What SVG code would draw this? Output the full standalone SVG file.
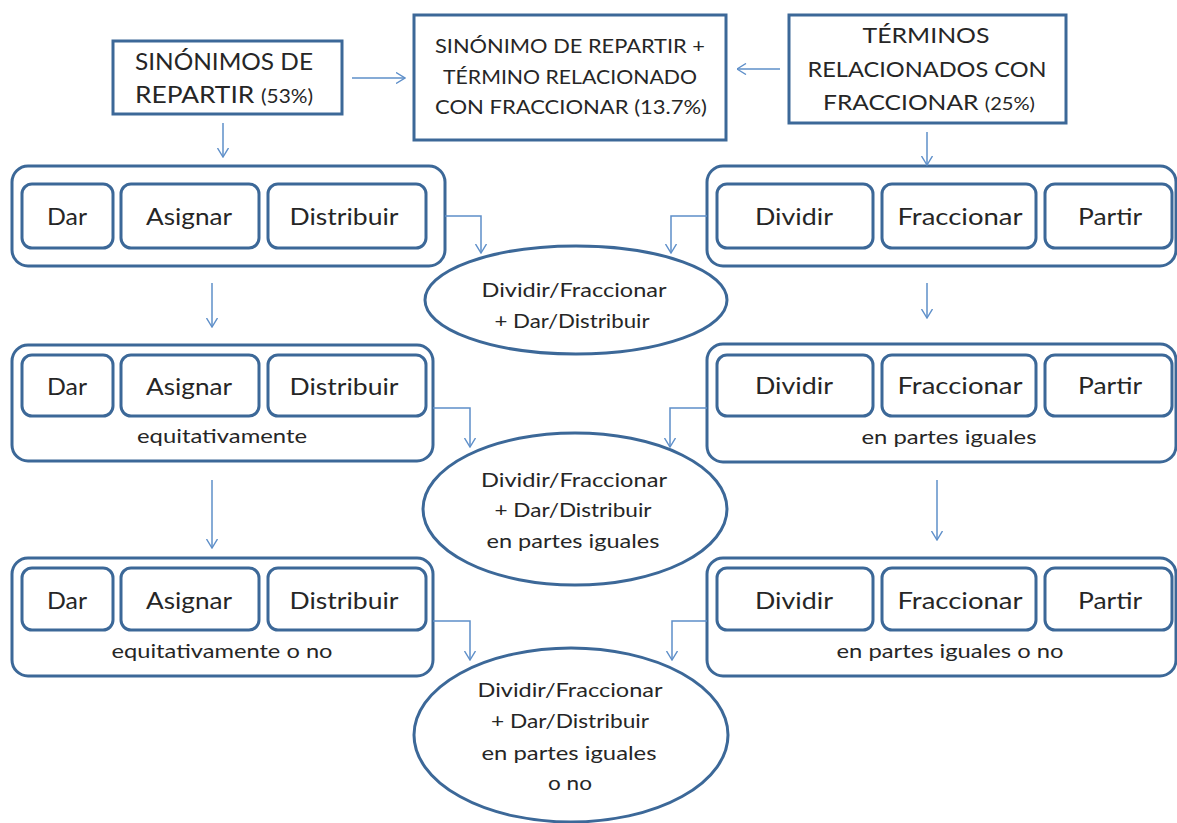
<svg xmlns="http://www.w3.org/2000/svg" width="1177" height="823" viewBox="0 0 1177 823">
<defs>
<marker id="arr" viewBox="0 0 10 12" refX="9.5" refY="6" markerWidth="10" markerHeight="12" markerUnits="userSpaceOnUse" orient="auto">
<path d="M0.5,0.5 L9.5,6 L0.5,11.5" fill="none" stroke="#5E8FC9" stroke-width="1.4"/>
</marker>
</defs>
<style>
.box{fill:#fff;stroke:#3C6898;stroke-width:3}
.cont{fill:#fff;stroke:#3C6898;stroke-width:3}
.t{font-family:Lato,"Liberation Sans",sans-serif;fill:#262626;text-anchor:middle}
.w{font-size:23px}
.s{font-size:20px}
.e{font-size:20px}
.conn{fill:none;stroke:#5E8FC9;stroke-width:1.5;marker-end:url(#arr)}
</style>
<rect width="1177" height="823" fill="#fff"/>

<g id="top-left">
<rect class="box" x="113" y="41" width="229" height="73"/>
<text class="t" x="224" y="70" font-size="24" textLength="178" lengthAdjust="spacingAndGlyphs">SINÓNIMOS DE</text>
<text class="t" x="224" y="103" font-size="24" textLength="178" lengthAdjust="spacingAndGlyphs">REPARTIR <tspan font-size="19">(53%)</tspan></text>
</g>

<g id="top-middle">
<rect class="box" x="414" y="15" width="312" height="125"/>
<text class="t" x="570" y="53" font-size="20" textLength="270" lengthAdjust="spacingAndGlyphs">SINÓNIMO DE REPARTIR +</text>
<text class="t" x="570" y="84" font-size="20" textLength="254" lengthAdjust="spacingAndGlyphs">TÉRMINO RELACIONADO</text>
<text class="t" x="571" y="114" font-size="20" textLength="272" lengthAdjust="spacingAndGlyphs">CON FRACCIONAR (13.7%)</text>
</g>

<g id="top-right">
<rect class="box" x="789" y="15" width="277" height="108"/>
<text class="t" x="926" y="43" font-size="22" textLength="127" lengthAdjust="spacingAndGlyphs">TÉRMINOS</text>
<text class="t" x="927" y="77" font-size="22" textLength="239" lengthAdjust="spacingAndGlyphs">RELACIONADOS CON</text>
<text class="t" x="929" y="110" font-size="22" textLength="212" lengthAdjust="spacingAndGlyphs">FRACCIONAR <tspan font-size="18">(25%)</tspan></text>
</g>

<g id="row1-left">
<rect class="cont" x="12" y="166" width="433" height="100" rx="16"/>
<rect class="box" x="22" y="184" width="91" height="64" rx="10"/>
<rect class="box" x="121" y="184" width="138" height="64" rx="10"/>
<rect class="box" x="268" y="184" width="158" height="64" rx="10"/>
<text class="t w" x="67" y="225" textLength="40" lengthAdjust="spacingAndGlyphs">Dar</text>
<text class="t w" x="189" y="225" textLength="86" lengthAdjust="spacingAndGlyphs">Asignar</text>
<text class="t w" x="344" y="225" textLength="109" lengthAdjust="spacingAndGlyphs">Distribuir</text>
</g>

<g id="row1-right">
<rect class="cont" x="707" y="166" width="469" height="100" rx="16"/>
<rect class="box" x="717" y="184" width="156" height="64" rx="10"/>
<rect class="box" x="882" y="184" width="154" height="64" rx="10"/>
<rect class="box" x="1045" y="184" width="127" height="64" rx="10"/>
<text class="t w" x="794" y="225" textLength="78" lengthAdjust="spacingAndGlyphs">Dividir</text>
<text class="t w" x="960" y="225" textLength="125" lengthAdjust="spacingAndGlyphs">Fraccionar</text>
<text class="t w" x="1110" y="225" textLength="64" lengthAdjust="spacingAndGlyphs">Partir</text>
</g>

<g id="ellipse1">
<ellipse class="box" cx="576" cy="300" rx="151" ry="54"/>
<text class="t e" x="574" y="297" textLength="185" lengthAdjust="spacingAndGlyphs">Dividir/Fraccionar</text>
<text class="t e" x="572" y="328" textLength="155" lengthAdjust="spacingAndGlyphs">+ Dar/Distribuir</text>
</g>

<g id="row2-left">
<rect class="cont" x="12" y="345" width="421" height="116" rx="16"/>
<rect class="box" x="22" y="355" width="91" height="61" rx="10"/>
<rect class="box" x="121" y="355" width="138" height="61" rx="10"/>
<rect class="box" x="268" y="355" width="158" height="61" rx="10"/>
<text class="t w" x="67" y="395" textLength="40" lengthAdjust="spacingAndGlyphs">Dar</text>
<text class="t w" x="189" y="395" textLength="86" lengthAdjust="spacingAndGlyphs">Asignar</text>
<text class="t w" x="344" y="395" textLength="109" lengthAdjust="spacingAndGlyphs">Distribuir</text>
<text class="t s" x="222" y="443" textLength="170" lengthAdjust="spacingAndGlyphs">equitativamente</text>
</g>

<g id="row2-right">
<rect class="cont" x="707" y="344" width="469" height="118" rx="16"/>
<rect class="box" x="717" y="355" width="156" height="61" rx="10"/>
<rect class="box" x="882" y="355" width="154" height="61" rx="10"/>
<rect class="box" x="1045" y="355" width="127" height="61" rx="10"/>
<text class="t w" x="794" y="394" textLength="78" lengthAdjust="spacingAndGlyphs">Dividir</text>
<text class="t w" x="960" y="394" textLength="125" lengthAdjust="spacingAndGlyphs">Fraccionar</text>
<text class="t w" x="1110" y="394" textLength="64" lengthAdjust="spacingAndGlyphs">Partir</text>
<text class="t s" x="949" y="444" textLength="175" lengthAdjust="spacingAndGlyphs">en partes iguales</text>
</g>

<g id="ellipse2">
<ellipse class="box" cx="575" cy="509" rx="152" ry="76"/>
<text class="t e" x="574" y="487" textLength="186" lengthAdjust="spacingAndGlyphs">Dividir/Fraccionar</text>
<text class="t e" x="573" y="517" textLength="157" lengthAdjust="spacingAndGlyphs">+ Dar/Distribuir</text>
<text class="t e" x="573" y="548" textLength="173" lengthAdjust="spacingAndGlyphs">en partes iguales</text>
</g>

<g id="row3-left">
<rect class="cont" x="12" y="558" width="421" height="118" rx="16"/>
<rect class="box" x="22" y="568" width="91" height="62" rx="10"/>
<rect class="box" x="121" y="568" width="138" height="62" rx="10"/>
<rect class="box" x="268" y="568" width="158" height="62" rx="10"/>
<text class="t w" x="67" y="609" textLength="40" lengthAdjust="spacingAndGlyphs">Dar</text>
<text class="t w" x="189" y="609" textLength="86" lengthAdjust="spacingAndGlyphs">Asignar</text>
<text class="t w" x="344" y="609" textLength="109" lengthAdjust="spacingAndGlyphs">Distribuir</text>
<text class="t s" x="222" y="658" textLength="221" lengthAdjust="spacingAndGlyphs">equitativamente o no</text>
</g>

<g id="row3-right">
<rect class="cont" x="707" y="558" width="469" height="118" rx="16"/>
<rect class="box" x="717" y="568" width="156" height="62" rx="10"/>
<rect class="box" x="882" y="568" width="154" height="62" rx="10"/>
<rect class="box" x="1045" y="568" width="127" height="62" rx="10"/>
<text class="t w" x="794" y="609" textLength="78" lengthAdjust="spacingAndGlyphs">Dividir</text>
<text class="t w" x="960" y="609" textLength="125" lengthAdjust="spacingAndGlyphs">Fraccionar</text>
<text class="t w" x="1110" y="609" textLength="64" lengthAdjust="spacingAndGlyphs">Partir</text>
<text class="t s" x="950" y="658" textLength="227" lengthAdjust="spacingAndGlyphs">en partes iguales o no</text>
</g>

<g id="ellipse3">
<ellipse class="box" cx="571" cy="735" rx="157" ry="87"/>
<text class="t e" x="570" y="697" textLength="185" lengthAdjust="spacingAndGlyphs">Dividir/Fraccionar</text>
<text class="t e" x="570" y="728" textLength="158" lengthAdjust="spacingAndGlyphs">+ Dar/Distribuir</text>
<text class="t e" x="569" y="760" textLength="175" lengthAdjust="spacingAndGlyphs">en partes iguales</text>
<text class="t e" x="570" y="790" textLength="44" lengthAdjust="spacingAndGlyphs">o no</text>
</g>

<g id="connectors">
<path class="conn" d="M352,78 H405"/>
<path class="conn" d="M780,69 H737"/>
<path class="conn" d="M223,123 V157"/>
<path class="conn" d="M927,132 V165"/>
<path class="conn" d="M445,216 H481 V253"/>
<path class="conn" d="M707,216 H671 V253"/>
<path class="conn" d="M212,283 V327"/>
<path class="conn" d="M927,283 V318"/>
<path class="conn" d="M433,408 H470 V447"/>
<path class="conn" d="M707,408 H670 V447"/>
<path class="conn" d="M212,480 V548"/>
<path class="conn" d="M937,480 V540"/>
<path class="conn" d="M433,621 H470 V660"/>
<path class="conn" d="M707,621 H672 V660"/>
</g>
</svg>
